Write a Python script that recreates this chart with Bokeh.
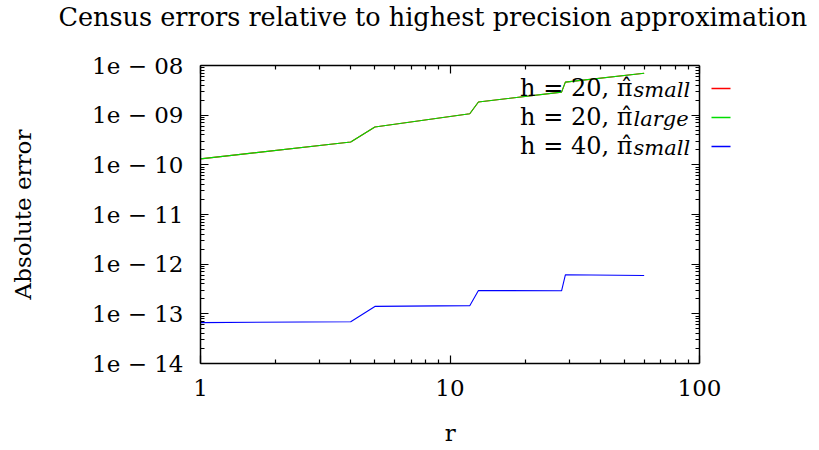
from bokeh.plotting import figure
from bokeh.models import (LogAxis, FixedTicker, CustomJSTickFormatter, Label, BoxAnnotation, Title)
from bokeh.embed import file_html
from bokeh.resources import INLINE

# ---- data ----
r = [1, 4, 5, 12, 13, 28, 29, 60]
h20_small = [1.32e-10, 2.89e-10, 5.78e-10, 1.07e-9, 1.84e-9, 2.91e-9, 4.62e-9, 7.0e-9]
h20_large = [1.32e-10, 2.89e-10, 5.78e-10, 1.07e-9, 1.84e-9, 2.91e-9, 4.62e-9, 7.0e-9]
h40_small = [6.64e-14, 6.95e-14, 1.41e-13, 1.46e-13, 2.95e-13, 2.91e-13, 6.11e-13, 5.92e-13]

x_min, x_max = 1, 100
y_min, y_max = 1e-14, 1e-8
x_ticks = [1, 10, 100]
x_tick_labels = ["1", "10", "100"]
y_exps = [-14, -13, -12, -11, -10, -9, -8]
y_tick_labels = ["1e − 14", "1e − 13", "1e − 12", "1e − 11", "1e − 10", "1e − 09", "1e − 08"]

series_names = ["h = 20, π̂", "h = 20, π̂", "h = 40, π̂"]
series_subs = ["small", "large", "small"]
series_colors = ["#ff0000", "#00dd00", "#0000ff"]
title_text = "Census errors relative to highest precision approximation"
x_label = "r"
y_label = "Absolute error"

FONT = "DejaVu Serif"
FS = "23px"
L, T = 200, 64
AXW = 499          # width of the drawn box (1..100)
FW, FH = 536, 299  # frame extends to the right to hold the legend samples
x_frame_max = 10 ** (2 * FW / AXW)

p = figure(width=819, height=450, x_axis_type="log", y_axis_type="log",
           x_range=(x_min, x_frame_max), y_range=(y_min, y_max),
           output_backend="svg", toolbar_location=None,
           min_border_left=L, min_border_right=819 - L - FW,
           min_border_top=T, min_border_bottom=450 - T - FH)
p.background_fill_color = "white"
p.border_fill_color = "white"
p.outline_line_color = None
p.grid.visible = False

for ys, c in zip([h20_small, h20_large, h40_small], series_colors):
    p.line(r, ys, line_color=c, line_width=1.1)

xminor = [m * 10 ** e for e in range(0, 2) for m in range(2, 10)]
yminor = [m * 10.0 ** e for e in range(-14, -8) for m in range(2, 10)]
yticks = [10.0 ** e for e in y_exps]

xfmt = CustomJSTickFormatter(args=dict(tvals=x_ticks, labs=x_tick_labels), code="""
for (let i = 0; i < tvals.length; i++) { if (Math.abs(Math.log10(tick) - Math.log10(tvals[i])) < 1e-6) return labs[i]; }
return '';
""")
yfmt = CustomJSTickFormatter(args=dict(exps=y_exps, labs=y_tick_labels), code="""
const e = Math.round(Math.log10(tick));
const i = exps.indexOf(e);
return i >= 0 ? labs[i] : '';
""")
blank = CustomJSTickFormatter(code="return '';")

def style(ax, show):
    ax.axis_line_color = "black"
    ax.axis_line_width = 1.5
    ax.major_tick_in = 8
    ax.major_tick_out = 0
    ax.minor_tick_in = 4
    ax.minor_tick_out = 0
    ax.major_tick_line_color = "black"
    ax.minor_tick_line_color = "black"
    ax.major_tick_line_width = 1.2
    ax.minor_tick_line_width = 1.2
    ax.major_label_text_font = FONT
    ax.major_label_text_font_size = FS if show else "0px"
    ax.major_label_text_color = "black"
    ax.axis_label_text_font = FONT
    ax.axis_label_text_font_size = FS
    ax.axis_label_text_font_style = "normal"
    ax.axis_label_text_color = "black"

xb = p.xaxis[0]
xb.ticker = FixedTicker(ticks=x_ticks, minor_ticks=xminor)
xb.formatter = xfmt
xb.bounds = (x_min, x_max)
style(xb, True)
xb.major_label_standoff = 16
xb.axis_label = x_label + "\u00a0" * 5
xb.axis_label_standoff = 21

yl = p.yaxis[0]
yl.ticker = FixedTicker(ticks=yticks, minor_ticks=yminor)
yl.formatter = yfmt
style(yl, True)
yl.major_label_standoff = 17
yl.axis_label = y_label
yl.axis_label_standoff = 53

# top axis (mirror ticks); a blank label gives room between title and frame
xt = LogAxis(ticker=FixedTicker(ticks=x_ticks, minor_ticks=xminor), formatter=blank,
             bounds=(x_min, x_max))
style(xt, False)
xt.major_label_standoff = 0
xt.axis_label = "\u00a0"
xt.axis_label_text_font_size = "10px"
xt.axis_label_standoff = 17
p.add_layout(xt, "above")

yr = LogAxis(ticker=FixedTicker(ticks=yticks, minor_ticks=yminor), formatter=blank,
             fixed_location=x_max)
style(yr, False)
p.add_layout(yr, "right")

p.title = Title(text=title_text, text_font=FONT, text_font_size="25.5px", text_font_style="normal",
                text_color="black", align="left", offset=58 - L, standoff=2,
                vertical_align="top")

def sx(x):  # canvas x -> frame-relative screen x
    return x - L

def sy(y):  # canvas y -> frame-relative screen y (from bottom)
    return FH - (y - T)

# legend (custom: text right, sample line to the right)
row_base = [87, 116, 145]
row_line = [88, 117, 146]
for name, sub, c, by, ly in zip(series_names, series_subs, series_colors, row_base, row_line):
    p.add_layout(Label(x=sx(632), y=sy(by), x_units="screen", y_units="screen", text=name,
                       text_font=FONT, text_font_size="24px", text_align="right",
                       text_baseline="alphabetic", text_color="black"))
    p.add_layout(Label(x=sx(633), y=sy(by + 2), x_units="screen", y_units="screen", text=sub,
                       text_font=FONT, text_font_size="21px", text_font_style="italic",
                       text_align="left", text_baseline="alphabetic", text_color="black"))
    p.add_layout(BoxAnnotation(left=sx(711), right=sx(730), bottom=sy(ly) - 0.75, top=sy(ly) + 0.75,
                               left_units="screen", right_units="screen",
                               bottom_units="screen", top_units="screen",
                               fill_color=c, fill_alpha=1.0, line_color=None))

open("out.html", "w").write(file_html(p, INLINE))
